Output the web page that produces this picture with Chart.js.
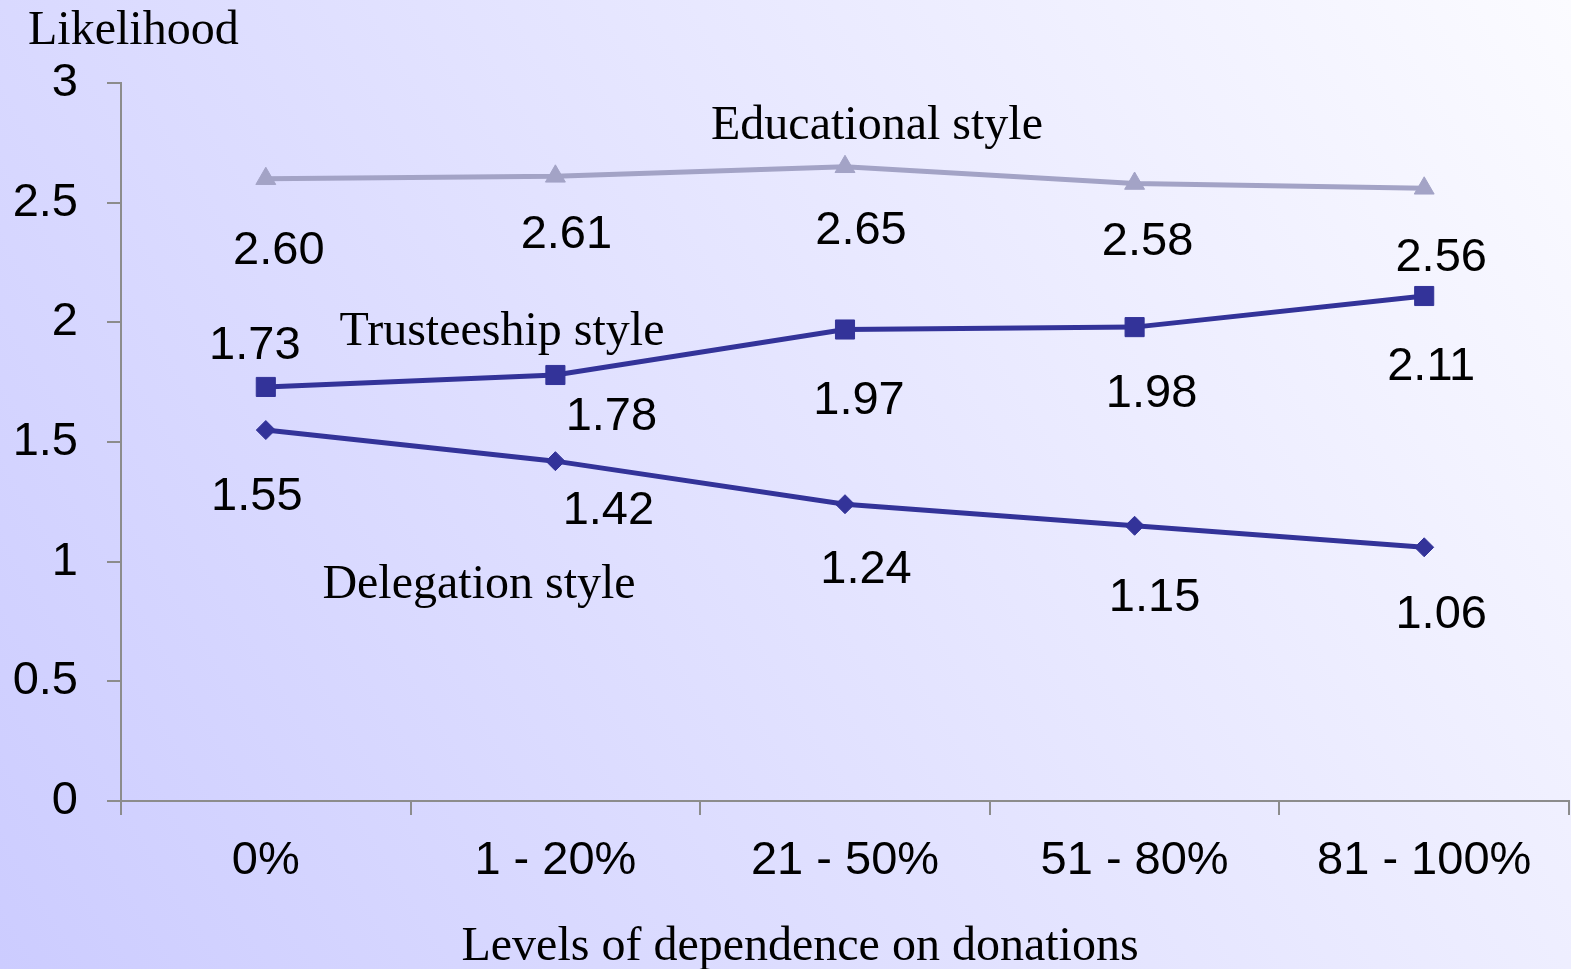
<!DOCTYPE html>
<html>
<head>
<meta charset="utf-8">
<script src="https://cdn.jsdelivr.net/npm/chart.js@4"></script>
<style>
  html, body { margin: 0; padding: 0; background: #fafaff; }
  canvas { display: block; }
</style>
</head>
<body>
<canvas id="chart" width="1571" height="969"></canvas>
<script>
// data
const categories = ['0%', '1 - 20%', '21 - 50%', '51 - 80%', '81 - 100%'];
const educational = [2.60, 2.61, 2.65, 2.58, 2.56];
const trusteeship = [1.73, 1.78, 1.97, 1.98, 2.11];
const delegation = [1.55, 1.42, 1.24, 1.15, 1.06];
const yTicks = [0, 0.5, 1, 1.5, 2, 2.5, 3];

// where each value label sits relative to its point (dx, dy)
const labelOffsets = [
  [[13, 69], [11, 56], [16, 61], [13, 56], [17, 67]],
  [[-11, -44], [56, 39], [14, 69], [17, 64], [7, 68]],
  [[-9, 64], [53, 47], [21, 63], [20, 69], [17, 65]]
];

const SANS = '"Liberation Sans", Arial, sans-serif';
const SERIF = '"Liberation Serif", "Times New Roman", serif';
const AXIS = '#8c8c8c';

const background = {
  id: 'background',
  beforeDraw(chart) {
    const ctx = chart.ctx;
    const g = ctx.createLinearGradient(0, chart.height, chart.width, 0);
    g.addColorStop(0, '#ccccff');
    g.addColorStop(1, '#fbfbff');
    ctx.save();
    ctx.fillStyle = g;
    ctx.fillRect(0, 0, chart.width, chart.height);
    ctx.restore();
  }
};

const texts = {
  id: 'texts',
  afterDatasetsDraw(chart) {
    const ctx = chart.ctx;
    ctx.save();
    ctx.fillStyle = '#000';
    ctx.textBaseline = 'middle';

    // value labels
    ctx.font = '47px ' + SANS;
    ctx.textAlign = 'center';
    chart.data.datasets.forEach((ds, i) => {
      chart.getDatasetMeta(i).data.forEach((pt, j) => {
        const off = labelOffsets[i][j];
        ctx.fillText(ds.data[j].toFixed(2), pt.x + off[0], pt.y + off[1] + 3);
      });
    });

    // series names and axis titles
    ctx.font = '48px ' + SERIF;
    ctx.fillText('Educational style', 877, 126);
    ctx.fillText('Trusteeship style', 502, 332);
    ctx.fillText('Delegation style', 479, 585);
    ctx.fillText('Levels of dependence on donations', 800, 947);
    ctx.textAlign = 'left';
    ctx.fillText('Likelihood', 28, 31);
    ctx.restore();
  }
};

new Chart(document.getElementById('chart'), {
  type: 'line',
  data: {
    labels: categories,
    datasets: [
      {
        label: 'Educational style',
        data: educational,
        borderColor: '#a3a3c6',
        backgroundColor: '#a3a3c6',
        borderWidth: 5,
        pointStyle: 'triangle',
        pointRadius: 11.5,
        pointBorderWidth: 1
      },
      {
        label: 'Trusteeship style',
        data: trusteeship,
        borderColor: '#333399',
        backgroundColor: '#333399',
        borderWidth: 5,
        pointStyle: 'rect',
        pointRadius: 13.5,
        pointBorderWidth: 1
      },
      {
        label: 'Delegation style',
        data: delegation,
        borderColor: '#333399',
        backgroundColor: '#333399',
        borderWidth: 5,
        pointStyle: 'rectRot',
        pointRadius: 9.5,
        pointBorderWidth: 1
      }
    ]
  },
  options: {
    responsive: false,
    animation: false,
    devicePixelRatio: 1,
    layout: { autoPadding: false, padding: { top: 83, right: 2, left: 0, bottom: 0 } },
    plugins: {
      legend: { display: false },
      tooltip: { enabled: false }
    },
    elements: { line: { tension: 0 } },
    scales: {
      x: {
        offset: true,
        grid: { offset: true, drawOnChartArea: false, tickLength: 14, color: AXIS, lineWidth: 2 },
        border: { color: AXIS, width: 2 },
        ticks: { font: { family: SANS, size: 47 }, color: '#000', padding: 18, maxRotation: 0, autoSkip: false },
        afterFit: s => { s.height = 168; }
      },
      y: {
        min: 0,
        max: 3,
        afterBuildTicks: s => { s.ticks = yTicks.map(v => ({ value: v })); },
        grid: { drawOnChartArea: false, tickLength: 14, color: AXIS, lineWidth: 2 },
        border: { color: AXIS, width: 2 },
        ticks: { font: { family: SANS, size: 47 }, color: '#000', padding: 29, callback: v => String(v) },
        afterFit: s => { s.width = 121; }
      }
    }
  },
  plugins: [background, texts]
});
</script>
</body>
</html>
